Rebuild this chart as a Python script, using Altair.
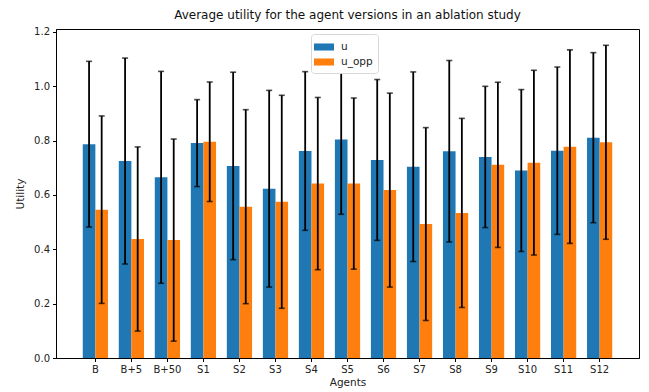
import altair as alt
import pandas as pd

agents = ["B", "B+5", "B+50", "S1", "S2", "S3", "S4", "S5", "S6", "S7", "S8", "S9", "S10", "S11", "S12"]
u_mean = [0.787, 0.725, 0.665, 0.791, 0.707, 0.623, 0.762, 0.804, 0.729, 0.704, 0.761, 0.740, 0.690, 0.763, 0.811]
u_std = [0.305, 0.379, 0.390, 0.160, 0.345, 0.362, 0.292, 0.275, 0.296, 0.349, 0.334, 0.260, 0.298, 0.308, 0.313]
uopp_mean = [0.546, 0.438, 0.434, 0.796, 0.557, 0.575, 0.642, 0.642, 0.618, 0.493, 0.534, 0.711, 0.719, 0.778, 0.794]
uopp_std = [0.345, 0.339, 0.372, 0.220, 0.357, 0.392, 0.317, 0.315, 0.357, 0.355, 0.348, 0.304, 0.340, 0.356, 0.357]
series = ["u", "u_opp"]
colors = ["#1f77b4", "#ff7f0e"]

rows = []
for name, means, stds in [("u", u_mean, u_std), ("u_opp", uopp_mean, uopp_std)]:
    for a, m, s in zip(agents, means, stds):
        rows.append({"agent": a, "series": name, "mean": m, "lo": m - s, "hi": m + s})
df = pd.DataFrame(rows)

FONT = "DejaVu Sans"

x_enc = alt.X("agent:N", sort=agents, title="Agents",
              scale=alt.Scale(paddingInner=0.3, paddingOuter=0.743),
              axis=alt.Axis(labelAngle=0, labelFontSize=10, titleFontSize=10.5,
                            labelColor="#222", titleColor="#222", tickColor="black",
                            domainColor="black", tickSize=3.5, labelPadding=3, titlePadding=3,
                            titleFontWeight="normal"))
xo = alt.XOffset("series:N", sort=series, scale=alt.Scale(paddingInner=0, paddingOuter=0))
y_scale = alt.Scale(domain=[0, 1.211], nice=False, zero=True)

bars = alt.Chart(df).mark_bar(opacity=1).encode(
    x=x_enc,
    xOffset=xo,
    y=alt.Y("mean:Q", scale=y_scale, title="Utility",
            axis=alt.Axis(values=[0, 0.2, 0.4, 0.6, 0.8, 1.0, 1.2], format=".1f", grid=False,
                          labelFontSize=10, titleFontSize=10.5, labelColor="#222", titleColor="#222",
                          tickColor="black", domainColor="black", tickSize=3.5, labelPadding=3,
                          titlePadding=8, titleFontWeight="normal")),
    color=alt.Color("series:N", sort=series, scale=alt.Scale(domain=series, range=colors),
                    legend=alt.Legend(title=None, orient="none", legendX=255, legendY=5,
                                      symbolType="M-1.25,-0.44L1.25,-0.44L1.25,0.44L-1.25,0.44Z",
                                      symbolSize=256, symbolStrokeWidth=0, labelFontSize=10.5,
                                      labelColor="#222", padding=5, rowPadding=1,
                                      strokeColor="#d8d8d8", fillColor="white",
                                      cornerRadius=3, labelOffset=9)),
)

rules = alt.Chart(df).mark_rule(color="black", strokeWidth=1.8).encode(
    x=alt.X("agent:N", sort=agents),
    xOffset=xo,
    y=alt.Y("lo:Q", scale=y_scale),
    y2="hi:Q",
)

cap_lo = alt.Chart(df).mark_tick(color="black", thickness=1.6, size=6, orient="horizontal").encode(
    x=alt.X("agent:N", sort=agents),
    xOffset=xo,
    y=alt.Y("lo:Q", scale=y_scale),
)
cap_hi = alt.Chart(df).mark_tick(color="black", thickness=1.6, size=6, orient="horizontal").encode(
    x=alt.X("agent:N", sort=agents),
    xOffset=xo,
    y=alt.Y("hi:Q", scale=y_scale),
)

chart = alt.layer(bars, rules, cap_lo, cap_hi).properties(
    width=583, height=329,
    title=alt.Title("Average utility for the agent versions in an ablation study",
                    fontSize=12, font=FONT, fontWeight="normal", color="#111", offset=5),
    autosize=alt.AutoSizeParams(type="none"),
    padding={"left": 48, "top": 21, "right": 2, "bottom": 34},
).configure(font=FONT).configure_view(stroke="black", strokeWidth=1)

chart.save("out.html", embed_options={"renderer": "svg", "actions": False})
